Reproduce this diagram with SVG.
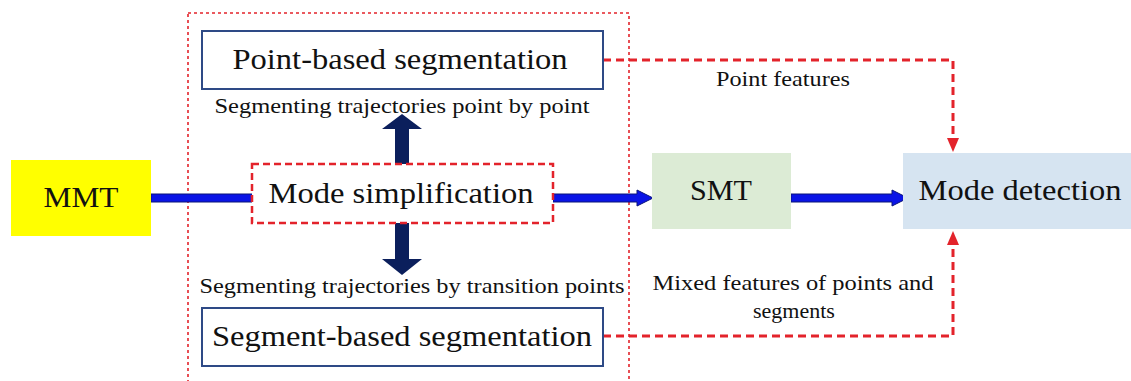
<svg xmlns="http://www.w3.org/2000/svg" width="1131" height="381" viewBox="0 0 1131 381">
<style>
.t{font-family:"Liberation Serif","Times New Roman",serif;fill:#111;}
.big{font-size:30px;}
.lbl{font-size:22px;}
.box{fill:#fff;stroke:#2E4A86;stroke-width:2;}
.red{fill:none;stroke:#E3232B;stroke-width:3;stroke-dasharray:8 5;}
.blue{fill:#0A14E6;stroke:#0A1478;stroke-width:1;}
.navy{fill:#0B1F5C;}
</style>
<defs>
<marker id="rh" markerUnits="userSpaceOnUse" markerWidth="14" markerHeight="14" refX="14" refY="7" orient="auto">
<path d="M0,1 L14,7 L0,13 z" fill="#E3232B"/>
</marker>
</defs>
<rect width="1131" height="381" fill="#fff"/>
<g id="outer-frame">
<rect x="188" y="13" width="441" height="380" fill="none" stroke="#E3232B" stroke-width="1.6" stroke-dasharray="3 3"/>
</g>
<g id="connectors">
<rect class="blue" x="151" y="194" width="102" height="8"/>
<polygon class="blue" points="553,194 637,194 637,190 653,198 637,206 637,202 553,202"/>
<polygon class="blue" points="791,194 892,194 892,190 908,198 892,206 892,202 791,202"/>
<polygon class="navy" points="395,164 395,129 382,129 402,114 422,129 409,129 409,164"/>
<polygon class="navy" points="395,223 395,259 382,259 402,275 422,259 409,259 409,223"/>
<path class="red" d="M603,60 H953 V152" marker-end="url(#rh)"/>
<path class="red" d="M603,336 H953 V231" marker-end="url(#rh)"/>
</g>
<g id="mmt">
<rect x="11" y="160" width="140" height="76" fill="#FFFF00"/>
<text class="t big" x="81" y="207" text-anchor="middle" textLength="75" lengthAdjust="spacingAndGlyphs">MMT</text>
</g>
<g id="point-based">
<rect class="box" x="202" y="31" width="401" height="58"/>
<text class="t big" x="400" y="69" text-anchor="middle" textLength="335" lengthAdjust="spacingAndGlyphs">Point-based segmentation</text>
<text class="t lbl" x="402" y="113" text-anchor="middle" textLength="375" lengthAdjust="spacingAndGlyphs">Segmenting trajectories point by point</text>
</g>
<g id="mode-simplification">
<rect x="252" y="164" width="301" height="59" fill="#fff" stroke="#E3232B" stroke-width="2.5" stroke-dasharray="7 4"/>
<text class="t big" x="401" y="203" text-anchor="middle" textLength="265" lengthAdjust="spacingAndGlyphs">Mode simplification</text>
</g>
<g id="segment-based">
<text class="t lbl" x="412" y="293" text-anchor="middle" textLength="425" lengthAdjust="spacingAndGlyphs">Segmenting trajectories by transition points</text>
<rect class="box" x="202" y="308" width="401" height="58"/>
<text class="t big" x="402" y="346" text-anchor="middle" textLength="380" lengthAdjust="spacingAndGlyphs">Segment-based segmentation</text>
</g>
<g id="smt">
<rect x="652" y="153" width="139" height="76" fill="#DCEBD5"/>
<text class="t big" x="721" y="200" text-anchor="middle" textLength="62" lengthAdjust="spacingAndGlyphs">SMT</text>
</g>
<g id="mode-detection">
<rect x="903" y="153" width="228" height="76" fill="#D6E4F1"/>
<text class="t big" x="1020" y="200" text-anchor="middle" textLength="203" lengthAdjust="spacingAndGlyphs">Mode detection</text>
</g>
<g id="labels">
<text class="t lbl" x="783" y="86" text-anchor="middle" textLength="134" lengthAdjust="spacingAndGlyphs">Point features</text>
<text class="t lbl" x="793" y="290" text-anchor="middle" textLength="281" lengthAdjust="spacingAndGlyphs">Mixed features of points and</text>
<text class="t lbl" x="794" y="318" text-anchor="middle">segments</text>
</g>
</svg>
